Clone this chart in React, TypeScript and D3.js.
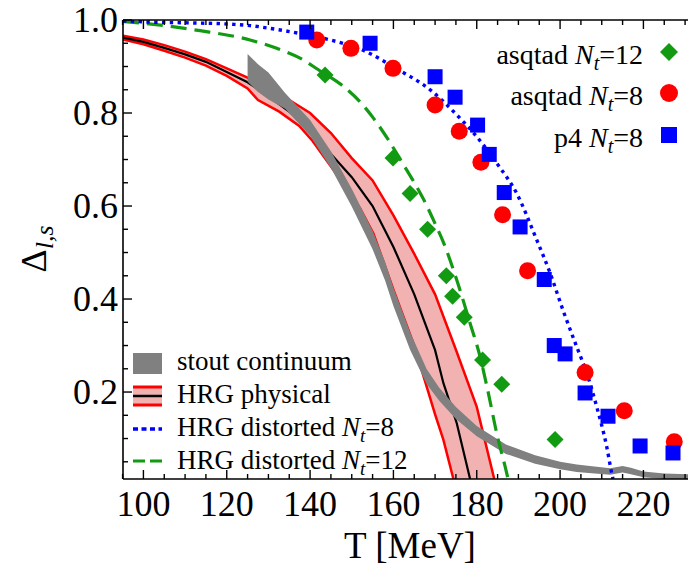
import React from 'react';
import * as d3 from 'd3';

// ---------- data ----------
// p4 Nt=8 (blue squares)
const p4T = [139.2, 154.4, 170.0, 174.8, 180.2, 183.0, 186.6, 190.4, 196.2, 198.6, 201.2, 206.0, 211.5, 219.2, 227.1];
const p4V = [0.974, 0.950, 0.878, 0.834, 0.774, 0.711, 0.629, 0.555, 0.442, 0.300, 0.282, 0.198, 0.148, 0.084, 0.069];

// asqtad Nt=8 (red circles)
const asq8T = [141.6, 149.8, 159.9, 170.0, 175.8, 181.0, 186.2, 192.2, 206.0, 215.4, 227.4];
const asq8V = [0.957, 0.939, 0.896, 0.817, 0.761, 0.694, 0.581, 0.461, 0.242, 0.160, 0.093];

// asqtad Nt=12 (green diamonds)
const asq12T = [143.6, 159.9, 164.0, 168.2, 172.7, 174.2, 177.0, 181.4, 186.0, 198.8];
const asq12V = [0.882, 0.703, 0.627, 0.550, 0.450, 0.406, 0.361, 0.269, 0.217, 0.098];

// HRG distorted Nt=8 (blue dotted)
const hrg8T = [95.1, 100, 110, 121, 125.6, 130.4, 137.6, 144, 152.7, 160.8, 168.8, 175.2, 180, 184.8, 189.6, 194.4, 197.6, 200.7, 204, 206.4, 208.8, 211.2, 212.4, 212.7];
const hrg8V = [0.998, 0.996, 0.994, 0.991, 0.988, 0.982, 0.971, 0.959, 0.935, 0.895, 0.850, 0.796, 0.749, 0.692, 0.627, 0.527, 0.456, 0.376, 0.297, 0.241, 0.168, 0.082, 0.025, 0.013];

// HRG distorted Nt=12 (green dashed)
const hrg12T = [95.1, 100, 113.6, 125.6, 132, 137.6, 142, 147.6, 152, 155.2, 158.8, 162, 165.6, 167.6, 170, 172, 175.2, 178.4, 180.8, 182.8, 184.8, 187.2, 187.5];
const hrg12V = [0.997, 0.993, 0.977, 0.957, 0.939, 0.918, 0.893, 0.860, 0.824, 0.789, 0.742, 0.695, 0.641, 0.608, 0.562, 0.522, 0.441, 0.348, 0.276, 0.197, 0.111, 0.025, 0.013];

// HRG physical band
const hrgUpT = [95.1, 100, 105, 110, 115, 120, 125, 130, 135, 140, 145, 150, 155, 160, 165, 170, 175, 180, 184.2];
const hrgUpV = [0.966, 0.958, 0.946, 0.932, 0.916, 0.896, 0.876, 0.852, 0.828, 0.800, 0.757, 0.703, 0.655, 0.580, 0.497, 0.410, 0.291, 0.168, 0.013];
const hrgLoT = [95.1, 100, 105, 110, 115, 120, 125, 127.5, 132.6, 137.4, 140.6, 143.8, 147, 152, 155.2, 160, 165, 170, 172, 174.4];
const hrgLoV = [0.958, 0.948, 0.934, 0.919, 0.902, 0.880, 0.853, 0.828, 0.803, 0.772, 0.740, 0.700, 0.660, 0.595, 0.541, 0.420, 0.300, 0.152, 0.097, 0.013];
const hrgMidT = [95.1, 100, 105, 110, 115, 120, 125, 130, 135, 140, 145, 150, 155, 160, 165, 170, 172, 175.2, 178.4];
const hrgMidV = [0.962, 0.953, 0.940, 0.926, 0.910, 0.888, 0.866, 0.836, 0.803, 0.765, 0.712, 0.662, 0.600, 0.512, 0.410, 0.290, 0.219, 0.133, 0.013];

// stout continuum band (center and half width)
const stoutT = [125, 127.5, 130, 134, 140, 145, 150, 155, 158, 160, 164, 168, 171, 175, 180, 187, 194, 200, 204, 212, 215, 217, 220, 225, 231];
const stoutV = [0.897, 0.875, 0.858, 0.826, 0.768, 0.700, 0.618, 0.527, 0.460, 0.405, 0.310, 0.233, 0.195, 0.155, 0.116, 0.077, 0.055, 0.042, 0.036, 0.029, 0.034, 0.030, 0.023, 0.019, 0.017];
const stoutErr = [0.030, 0.030, 0.029, 0.017, 0.017, 0.018, 0.019, 0.020, 0.020, 0.020, 0.019, 0.016, 0.014, 0.013, 0.011, 0.010, 0.009, 0.008, 0.008, 0.007, 0.007, 0.007, 0.006, 0.006, 0.006];

const xMajorTicks = [100, 120, 140, 160, 180, 200, 220];
const yMajorTicks = [0.2, 0.4, 0.6, 0.8, 1.0];
const yTickLabels = ['0.2', '0.4', '0.6', '0.8', '1.0'];

// ---------- layout ----------
const W = 688, H = 572;
const L = 123, R = 688, TOP = 20, BOT = 479;
const FONT = '"Liberation Serif", "Times New Roman", serif';

const BLUE = '#0000ff';
const RED = '#ff0000';
const GREEN = '#139a13';
const GRAY = '#808080';
const PINK = '#f2b2b2';

export default function App() {
  const x = d3.scaleLinear().domain([95.1, 230.7]).range([L, R]);
  const y = d3.scaleLinear().domain([0.013, 1.0]).range([BOT, TOP]);

  const pts = (ts: number[], vs: number[]) => ts.map((t, i) => [t, vs[i]] as [number, number]);
  const line = d3.line<[number, number]>().x(d => x(d[0])).y(d => y(d[1]));
  const smooth = d3.line<[number, number]>().x(d => x(d[0])).y(d => y(d[1])).curve(d3.curveMonotoneX);

  const up = pts(hrgUpT, hrgUpV);
  const lo = pts(hrgLoT, hrgLoV);
  const bandPath = line([...up, ...lo.slice().reverse()]) + 'Z';

  const stoutArea = d3.area<number>()
    .x(i => x(stoutT[i]))
    .y0(i => y(stoutV[i] - stoutErr[i]))
    .y1(i => y(stoutV[i] + stoutErr[i]));
  const stoutPath = stoutArea(stoutT.map((_, i) => i)) as string;

  const xMinor = d3.range(95, 231, 5);
  const yMinor = d3.range(1, 21).map(k => k * 0.05);

  const tickW = 1.4;

  const diamond = (cx: number, cy: number, r = 8.5) =>
    `M${cx},${cy - r}L${cx + r},${cy}L${cx},${cy + r}L${cx - r},${cy}Z`;

  return (
    <svg width={W} height={H} style={{ position: 'absolute', left: 0, top: 0, background: '#fff' }}
      fontFamily={FONT}>
      <defs>
        <clipPath id="plotclip">
          <rect x={L} y={TOP} width={R - L} height={BOT - TOP} />
        </clipPath>
      </defs>

      <g clipPath="url(#plotclip)">
        {/* HRG physical band */}
        <path d={bandPath} fill={PINK} stroke="none" />
        <path d={line(up) as string} fill="none" stroke={RED} strokeWidth={2.5} />
        <path d={line(lo) as string} fill="none" stroke={RED} strokeWidth={2.5} />
        <path d={line(pts(hrgMidT, hrgMidV)) as string} fill="none" stroke="#000" strokeWidth={2.2} />

        {/* stout continuum */}
        <path d={stoutPath} fill={GRAY} stroke="none" />

        {/* HRG distorted curves */}
        <path d={smooth(pts(hrg12T, hrg12V)) as string} fill="none" stroke={GREEN} strokeWidth={3.2}
          strokeDasharray="16,8" />
        <path d={smooth(pts(hrg8T, hrg8V)) as string} fill="none" stroke={BLUE} strokeWidth={3.4}
          strokeDasharray="3.4,4.4" />

        {/* data points */}
        {asq12T.map((t, i) => (
          <path key={'d' + i} d={diamond(x(t), y(asq12V[i]))} fill={GREEN} />
        ))}
        {asq8T.map((t, i) => (
          <circle key={'c' + i} cx={x(t)} cy={y(asq8V[i])} r={8.5} fill={RED} />
        ))}
        {p4T.map((t, i) => (
          <rect key={'s' + i} x={x(t) - 7.5} y={y(p4V[i]) - 7.5} width={15} height={15} fill={BLUE} />
        ))}
      </g>

      {/* frame */}
      <line x1={L} x2={L} y1={TOP} y2={BOT} stroke="#000" strokeWidth={1.6} />
      <line x1={L} x2={R} y1={BOT} y2={BOT} stroke="#000" strokeWidth={1.6} />
      <line x1={L} x2={R} y1={TOP} y2={TOP} stroke="#000" strokeWidth={1.6} />

      {/* x ticks */}
      {xMinor.map(t => {
        const major = xMajorTicks.includes(t);
        const len = major ? 9 : 5;
        return (
          <g key={'xt' + t}>
            <line x1={x(t)} x2={x(t)} y1={BOT} y2={BOT - len} stroke="#000" strokeWidth={tickW} />
            <line x1={x(t)} x2={x(t)} y1={TOP} y2={TOP + len} stroke="#000" strokeWidth={tickW} />
          </g>
        );
      })}
      {xMajorTicks.map(t => (
        <text key={'xl' + t} x={x(t)} y={516} fontSize={36} textAnchor="middle">{t}</text>
      ))}

      {/* y ticks */}
      {yMinor.map((v, i) => {
        const major = (i + 1) % 4 === 0;
        const len = major ? 9 : 5;
        return (
          <line key={'yt' + i} x1={L} x2={L + len} y1={y(v)} y2={y(v)} stroke="#000" strokeWidth={tickW} />
        );
      })}
      {yMajorTicks.map((v, i) => (
        <text key={'yl' + i} x={118} y={y(v) + 12} fontSize={36} textAnchor="end">{yTickLabels[i]}</text>
      ))}

      {/* axis labels */}
      <text x={410} y={558} fontSize={37} textAnchor="middle">T [MeV]</text>
      <text transform="translate(46,249) rotate(-90)" fontSize={36} textAnchor="middle">
        Δ<tspan fontSize={26} fontStyle="italic" dy={7}>l,s</tspan>
      </text>

      {/* top-right legend */}
      <g fontSize={28}>
        <text x={643} y={64} textAnchor="end">
          asqtad <tspan fontStyle="italic">N</tspan><tspan fontStyle="italic" fontSize={20} dy={6}>t</tspan><tspan dy={-6}>=12</tspan>
        </text>
        <path d={diamond(669, 52, 9)} fill={GREEN} />
        <text x={643} y={105} textAnchor="end">
          asqtad <tspan fontStyle="italic">N</tspan><tspan fontStyle="italic" fontSize={20} dy={6}>t</tspan><tspan dy={-6}>=8</tspan>
        </text>
        <circle cx={669} cy={93} r={9} fill={RED} />
        <text x={643} y={147} textAnchor="end">
          p4 <tspan fontStyle="italic">N</tspan><tspan fontStyle="italic" fontSize={20} dy={6}>t</tspan><tspan dy={-6}>=8</tspan>
        </text>
        <rect x={661} y={127} width={16} height={16} fill={BLUE} />
      </g>

      {/* bottom-left legend */}
      <g fontSize={27}>
        <rect x={133} y={353} width={29} height={21} fill={GRAY} />
        <text x={177} y={370}>stout continuum</text>

        <rect x={133} y={387} width={29} height={18} fill={PINK} />
        <line x1={133} x2={162} y1={387} y2={387} stroke={RED} strokeWidth={3} />
        <line x1={133} x2={162} y1={405} y2={405} stroke={RED} strokeWidth={3} />
        <line x1={133} x2={162} y1={396} y2={396} stroke="#000" strokeWidth={2.5} />
        <text x={177} y={403}>HRG physical</text>

        <line x1={133} x2={162} y1={429} y2={429} stroke={BLUE} strokeWidth={3.4} strokeDasharray="5,3.5" />
        <text x={177} y={436}>
          HRG distorted <tspan fontStyle="italic">N</tspan><tspan fontStyle="italic" fontSize={19} dy={6}>t</tspan><tspan dy={-6}>=8</tspan>
        </text>

        <line x1={133} x2={162} y1={461} y2={461} stroke={GREEN} strokeWidth={3.2} strokeDasharray="12,5" />
        <text x={177} y={469}>
          HRG distorted <tspan fontStyle="italic">N</tspan><tspan fontStyle="italic" fontSize={19} dy={6}>t</tspan><tspan dy={-6}>=12</tspan>
        </text>
      </g>
    </svg>
  );
}
